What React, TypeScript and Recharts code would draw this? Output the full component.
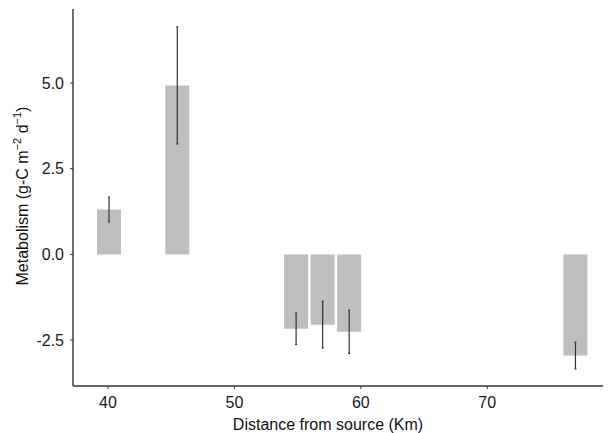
import React from 'react';
import { ComposedChart, Bar, XAxis, YAxis, ErrorBar, Label } from 'recharts';

const distanceKm = [40.1, 45.5, 54.9, 57.0, 59.1, 77.0];
const metabolism = [1.31, 4.93, -2.17, -2.05, -2.26, -2.95];
const metabolismSE = [0.36, 1.71, 0.46, 0.68, 0.63, 0.39];
const xTicks = [40, 50, 60, 70];
const yTicks = [-2.5, 0, 2.5, 5];

const data = distanceKm.map((d, i) => ({ d, m: metabolism[i], e: metabolismSE[i] }));

const FONT = '"Liberation Sans", Arial, sans-serif';

const YTitle = () => {
  const x = 20;
  const y = 188;
  return (
    <text
      x={x}
      y={y}
      transform={`rotate(-90, ${x}, ${y})`}
      textAnchor="middle"
      fontFamily={FONT}
      fontSize={16}
      fill="#111"
    >
      <tspan>Metabolism (g-C m</tspan>
      <tspan fontSize={11} dy={-7}>−2</tspan>
      <tspan dy={7}> d</tspan>
      <tspan fontSize={11} dy={-7}>−1</tspan>
      <tspan dy={7}>)</tspan>
    </text>
  );
};

const XTitle = () => (
  <text x={320} y={422} textAnchor="middle" fontFamily={FONT} fontSize={16} fill="#111">
    Distance from source (Km)
  </text>
);

export default function App() {
  return (
    <ComposedChart
      width={603}
      height={425}
      data={data}
      margin={{ top: 1, right: 0, bottom: 0, left: 0 }}
    >
      <XAxis
        type="number"
        dataKey="d"
        domain={[37.23, 79.79]}
        allowDataOverflow
        ticks={xTicks}
        height={47}
        tickSize={3}
        tickMargin={8}
        axisLine={{ stroke: '#333', strokeWidth: 1.4 }}
        tickLine={{ stroke: '#333' }}
        tick={{ fill: '#1a1a1a', fontSize: 16, fontFamily: FONT }}
      >
        <Label content={XTitle} />
      </XAxis>
      <YAxis
        type="number"
        domain={[-3.84, 7.16]}
        allowDataOverflow
        ticks={yTicks}
        width={65}
        tickSize={3}
        tickMargin={6}
        tickFormatter={(v: number) => v.toFixed(1)}
        axisLine={{ stroke: '#333', strokeWidth: 1.4 }}
        tickLine={{ stroke: '#333' }}
        tick={{ fill: '#1a1a1a', fontSize: 16, fontFamily: FONT }}
      >
        <Label content={YTitle} />
      </YAxis>
      <Bar dataKey="m" fill="#bebebe" barSize={24} isAnimationActive={false}>
        <ErrorBar dataKey="e" width={1} stroke="#333" strokeWidth={1.2} direction="y" />
      </Bar>
    </ComposedChart>
  );
}
